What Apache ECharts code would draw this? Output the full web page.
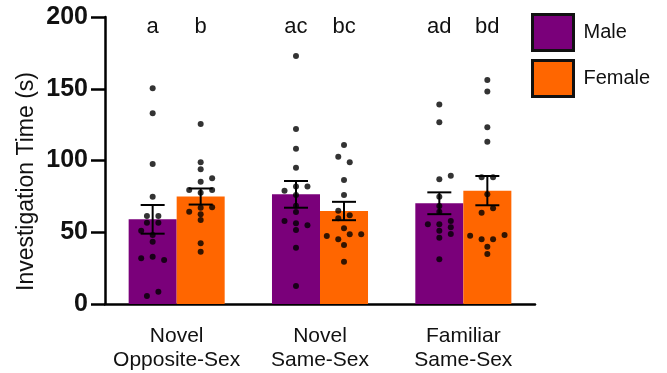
<!DOCTYPE html>
<html><head><meta charset="utf-8">
<script src="https://cdn.jsdelivr.net/npm/echarts@6/dist/echarts.min.js"></script>
<style>html,body{margin:0;padding:0;background:#fff}#c{width:667px;height:373px}</style>
</head><body><div id="c"></div>
<script>
const categories = ['Novel\nOpposite-Sex', 'Novel\nSame-Sex', 'Familiar\nSame-Sex'];
const yTicks = [0, 50, 100, 150, 200];
const yTitle = 'Investigation Time (s)';
const maleMean = [59.0, 76.4, 70.2];
const maleSem = [10.0, 9.3, 7.6];
const femaleMean = [74.9, 64.8, 79.0];
const femaleSem = [5.6, 6.4, 10.2];
const maleLetters = ['a', 'ac', 'ad'];
const femaleLetters = ['b', 'bc', 'bd'];

// individual points (value) and horizontal jitter column (dot widths)
const maleOppVals = [150.3,132.9,97.6,74.8,61.3,61.3,56.7,56.7,51.1,48.1,43.4,31.8,33.0,30.7,5.6,8.6];
const maleOppJit  = [0,0,0,0,-1,1,-1,1,-2,0,0,-2,0,2,-1,1];
const femaleOppVals = [125.4,98.7,93.9,87.6,85.2,79.4,77.6,79.4,64.3,67.0,67.4,62.5,58.5,42.3,36.4];
const femaleOppJit  = [0,0,0,2,0,-2,0,2,-2,0,2,0,0,0,0];
const maleSameVals = [172.8,122.0,108.2,95.0,79.0,81.8,81.8,76.0,68.5,64.1,57.8,56.2,54.8,51.6,39.2,12.5];
const maleSameJit  = [0,0,0,0,-2,0,2,0,0,0,-2,0,2,0,0,0];
const femaleSameVals = [110.8,102.7,98.7,86.4,76.0,65.0,61.8,59.7,52.8,47.4,45.1,48.6,48.6,41.1,29.5];
const femaleSameJit  = [0,-1,1,0,0,-1,1,-1,0,-3,-1,1,3,0,0];
const maleFamVals = [139.1,126.6,86.9,89.4,74.8,68.3,64.3,55.5,55.5,57.8,51.1,53.4,48.8,46.2,31.1];
const maleFamJit  = [0,0,0,2,0,0,0,-2,0,2,0,2,2,0,0];
const femaleFamVals = [156.1,148.0,123.1,113.1,88.3,88.3,76.4,63.6,66.7,47.6,45.1,45.1,48.1,39.9,34.8];
const femaleFamJit  = [0,0,0,0,-1,1,0,-1,1,-3,-1,1,3,0,0];

const PURPLE = '#7a007a', ORANGE = '#ff6600';
const FONT = 'Liberation Sans, Arial, Helvetica, sans-serif';
const CAT_GAP = 0.33;               // barCategoryGap fraction
const HALF = (1 - CAT_GAP) / 4;     // offset of each bar centre from category centre
const JSTEP = 0.04;                 // jitter column width in category units
const LETTER_Y = 193;

const maleGroups = [[maleOppVals, maleOppJit], [maleSameVals, maleSameJit], [maleFamVals, maleFamJit]];
const femaleGroups = [[femaleOppVals, femaleOppJit], [femaleSameVals, femaleSameJit], [femaleFamVals, femaleFamJit]];

function pts(groups, side) {
  const out = [];
  groups.forEach((g, i) => g[0].forEach((v, k) => out.push([i + side * HALF + g[1][k] * JSTEP, v])));
  return out;
}
const errData = [];
maleMean.forEach((m, i) => errData.push([i - HALF, m - maleSem[i], m + maleSem[i]]));
femaleMean.forEach((m, i) => errData.push([i + HALF, m - femaleSem[i], m + femaleSem[i]]));
const letterData = [];
maleLetters.forEach((t, i) => letterData.push([i - HALF, LETTER_Y, t]));
femaleLetters.forEach((t, i) => letterData.push([i + HALF, LETTER_Y, t]));

const chart = echarts.init(document.getElementById('c'), null, {renderer: 'canvas'});
chart.setOption({
  animation: false,
  backgroundColor: '#fff',
  textStyle: {fontFamily: FONT},
  grid: {left: 105, right: 132, top: 17, bottom: 69, containLabel: false},
  graphic: [{
    type: 'text', left: 15, top: 72, rotation: Math.PI / 2,
    style: {text: yTitle, fontSize: 23, fill: '#111', fontFamily: FONT}
  }],
  legend: {
    data: ['Male', 'Female'], orient: 'vertical', left: 526, top: 8,
    icon: 'rect', itemWidth: 41, itemHeight: 36, itemGap: 7,
    itemStyle: {borderColor: '#111', borderWidth: 3},
    textStyle: {fontSize: 20, color: '#111', fontFamily: FONT, padding: [0, 0, 0, 5]}
  },
  xAxis: [{
    type: 'category', data: categories,
    axisLine: {lineStyle: {color: '#000', width: 2.5}},
    axisTick: {alignWithLabel: true, length: 11, lineStyle: {color: '#000', width: 2.5}},
    axisLabel: {interval: 0, fontSize: 21, color: '#111', lineHeight: 24, margin: 20, fontFamily: FONT}
  }, {type: 'value', min: -0.5, max: 2.5, show: false}],
  yAxis: {
    type: 'value', min: yTicks[0], max: yTicks[yTicks.length - 1], interval: 50,
    axisLine: {show: true, onZero: false, lineStyle: {color: '#000', width: 2.5}},
    axisTick: {show: true, length: 14, lineStyle: {color: '#000', width: 2.5}},
    axisLabel: {fontSize: 25, fontWeight: 'bold', color: '#111', margin: 17, fontFamily: FONT},
    splitLine: {show: false}
  },
  series: [
    {name: 'Male', type: 'bar', data: maleMean, barGap: 0, barCategoryGap: (CAT_GAP * 100) + '%', itemStyle: {color: PURPLE}, z: 1},
    {name: 'Female', type: 'bar', data: femaleMean, barGap: 0, barCategoryGap: (CAT_GAP * 100) + '%', itemStyle: {color: ORANGE}, z: 1},
    {type: 'custom', xAxisIndex: 1, data: errData, z: 3,
      renderItem: function (params, api) {
        const x = api.value(0);
        const lo = api.coord([x, api.value(1)]);
        const hi = api.coord([x, api.value(2)]);
        const w = 12;
        const st = {stroke: '#000', lineWidth: 2};
        return {type: 'group', children: [
          {type: 'line', shape: {x1: lo[0], y1: lo[1], x2: hi[0], y2: hi[1]}, style: st},
          {type: 'line', shape: {x1: lo[0] - w, y1: lo[1], x2: lo[0] + w, y2: lo[1]}, style: st},
          {type: 'line', shape: {x1: hi[0] - w, y1: hi[1], x2: hi[0] + w, y2: hi[1]}, style: st}
        ]};
      }},
    {type: 'scatter', xAxisIndex: 1, data: pts(maleGroups, -1), symbolSize: 6, itemStyle: {color: '#000'}, z: 4},
    {type: 'scatter', xAxisIndex: 1, data: pts(femaleGroups, 1), symbolSize: 6, itemStyle: {color: '#000'}, z: 4},
    {type: 'custom', xAxisIndex: 1, data: letterData, z: 5,
      renderItem: function (params, api) {
        const p = api.coord([api.value(0), api.value(1)]);
        return {type: 'text', x: p[0], y: p[1], style: {text: letterData[params.dataIndex][2], fontSize: 22, fill: '#111', fontFamily: FONT, align: 'center', verticalAlign: 'middle'}};
      }}
  ]
});
</script>
</body></html>
